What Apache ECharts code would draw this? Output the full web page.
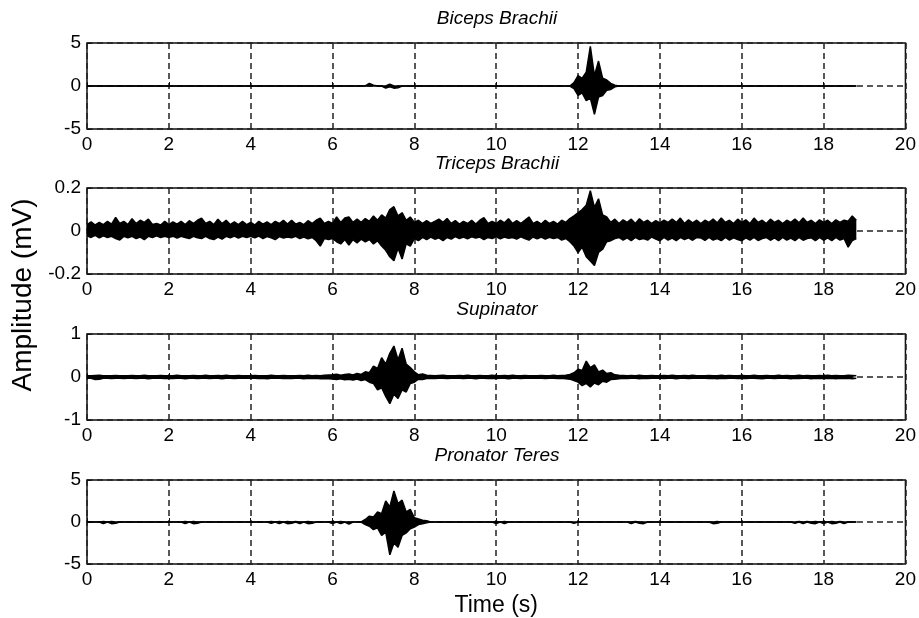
<!DOCTYPE html>
<html>
<head>
<meta charset="utf-8">
<script src="https://cdn.jsdelivr.net/npm/echarts@6/dist/echarts.min.js"></script>
<style>
html,body{margin:0;padding:0;background:#fff;}
#chart{width:919px;height:618px;}
</style>
</head>
<body>
<div id="chart"></div>
<script>
// Sampling step of the envelope readings (s); samples run from 0 to 18.8 s
const DT = 0.1;
const TITLES = ['Biceps Brachii', 'Triceps Brachii', 'Supinator', 'Pronator Teres'];
const X_TICKS = [0, 2, 4, 6, 8, 10, 12, 14, 16, 18, 20];
const Y_RANGES = [[-5, 5, 5], [-0.2, 0.2, 0.2], [-1, 1, 1], [-5, 5, 5]];

// Biceps Brachii upper / lower envelope (mV), one row per second
const BB_HI = [
0,0,0,0,0,0,0,0,0,0,
0,0,0,0,0,0,0,0,0,0,
0,0,0,0,0,0,0,0,0,0,
0,0,0,0,0,0,0,0,0,0,
0,0,0,0,0,0,0,0,0,0,
0,0,0,0,0,0,0,0,0,0,
0,0,0,0,0,0,0,0,0,0.3,
0.1,0,0,0,0.2,0,0,0,0,0,
0,0,0,0,0,0,0,0,0,0,
0,0,0,0,0,0,0,0,0,0,
0,0,0,0,0,0,0,0,0,0,
0,0,0,0,0,0,0,0,0,0.4,
1.2,0.9,1.6,4.6,1.2,2.9,0.9,0.7,0.3,0.1,
0,0,0,0,0,0,0,0,0,0,
0,0,0,0,0,0,0,0,0,0,
0,0,0,0,0,0,0,0,0,0,
0,0,0,0,0,0,0,0,0,0,
0,0,0,0,0,0,0,0,0,0,
0,0,0,0,0,0,0,0,0
];
const BB_LO = [
0,0,0,0,0,0,0,0,0,0,
0,0,0,0,0,0,0,0,0,0,
0,0,0,0,0,0,0,0,0,0,
0,0,0,0,0,0,0,0,0,0,
0,0,0,0,0,0,0,0,0,0,
0,0,0,0,0,0,0,0,0,0,
0,0,0,0,0,0,0,0,0,0,
0,0,0,-0.25,-0.1,-0.25,-0.2,0,0,0,
0,0,0,0,0,0,0,0,0,0,
0,0,0,0,0,0,0,0,0,0,
0,0,0,0,0,0,0,0,0,0,
0,0,0,0,0,0,0,0,0,-0.3,
-1.1,-0.8,-1.7,-1.4,-3.3,-1.3,-1.1,-0.5,-0.4,-0.1,
0,0,0,0,0,0,0,0,0,0,
0,0,0,0,0,0,0,0,0,0,
0,0,0,0,0,0,0,0,0,0,
0,0,0,0,0,0,0,0,0,0,
0,0,0,0,0,0,0,0,0,0,
0,0,0,0,0,0,0,0,0
];

// Triceps Brachii upper / lower envelope (mV)
const TB_HI = [
0.03,0.042,0.028,0.04,0.03,0.045,0.032,0.063,0.035,0.045,
0.03,0.057,0.035,0.05,0.04,0.055,0.03,0.035,0.028,0.045,
0.03,0.042,0.032,0.045,0.03,0.048,0.035,0.05,0.06,0.035,
0.045,0.03,0.055,0.035,0.05,0.03,0.042,0.03,0.045,0.03,
0.04,0.028,0.045,0.032,0.042,0.03,0.045,0.035,0.05,0.032,
0.05,0.032,0.04,0.03,0.048,0.035,0.05,0.06,0.035,0.045,
0.035,0.065,0.04,0.06,0.065,0.04,0.055,0.04,0.058,0.045,
0.07,0.05,0.075,0.06,0.1,0.113,0.07,0.085,0.05,0.065,
0.04,0.05,0.035,0.048,0.035,0.045,0.055,0.04,0.058,0.035,
0.048,0.032,0.045,0.035,0.05,0.032,0.05,0.062,0.035,0.045,
0.035,0.05,0.038,0.057,0.035,0.048,0.035,0.05,0.065,0.035,
0.045,0.032,0.05,0.035,0.045,0.032,0.05,0.04,0.058,0.07,
0.085,0.1,0.12,0.187,0.11,0.15,0.075,0.065,0.04,0.055,
0.035,0.052,0.04,0.055,0.035,0.057,0.04,0.05,0.035,0.048,
0.038,0.05,0.04,0.055,0.04,0.06,0.035,0.052,0.038,0.05,
0.035,0.05,0.04,0.055,0.038,0.06,0.04,0.05,0.035,0.055,
0.04,0.052,0.035,0.06,0.04,0.05,0.035,0.055,0.04,0.05,
0.035,0.05,0.04,0.055,0.038,0.06,0.04,0.05,0.035,0.052,
0.04,0.05,0.035,0.052,0.04,0.05,0.045,0.07,0.05
];
const TB_LO = [
-0.022,-0.03,-0.02,-0.032,-0.022,-0.03,-0.025,-0.035,-0.042,-0.025,
-0.032,-0.025,-0.035,-0.028,-0.04,-0.025,-0.03,-0.022,-0.03,-0.025,
-0.03,-0.024,-0.033,-0.025,-0.03,-0.035,-0.025,-0.032,-0.035,-0.025,
-0.035,-0.04,-0.028,-0.038,-0.025,-0.032,-0.024,-0.033,-0.025,-0.03,
-0.025,-0.032,-0.024,-0.035,-0.026,-0.032,-0.04,-0.026,-0.033,-0.028,
-0.032,-0.025,-0.035,-0.028,-0.036,-0.03,-0.045,-0.07,-0.035,-0.04,
-0.035,-0.05,-0.06,-0.04,-0.065,-0.04,-0.055,-0.038,-0.05,-0.04,
-0.06,-0.045,-0.07,-0.09,-0.12,-0.138,-0.08,-0.13,-0.06,-0.07,
-0.035,-0.045,-0.03,-0.04,-0.028,-0.038,-0.032,-0.045,-0.03,-0.038,
-0.026,-0.035,-0.028,-0.036,-0.027,-0.033,-0.028,-0.04,-0.03,-0.035,
-0.027,-0.036,-0.028,-0.034,-0.03,-0.038,-0.027,-0.035,-0.042,-0.028,
-0.036,-0.028,-0.038,-0.029,-0.035,-0.03,-0.042,-0.035,-0.05,-0.07,
-0.1,-0.075,-0.12,-0.14,-0.16,-0.1,-0.085,-0.05,-0.045,-0.035,
-0.03,-0.042,-0.032,-0.045,-0.03,-0.04,-0.035,-0.042,-0.028,-0.038,
-0.045,-0.03,-0.042,-0.033,-0.045,-0.03,-0.04,-0.032,-0.043,-0.03,
-0.032,-0.044,-0.03,-0.042,-0.035,-0.045,-0.03,-0.042,-0.032,-0.04,
-0.045,-0.032,-0.042,-0.03,-0.044,-0.035,-0.03,-0.043,-0.032,-0.045,
-0.03,-0.042,-0.033,-0.045,-0.03,-0.043,-0.035,-0.032,-0.045,-0.03,
-0.043,-0.032,-0.045,-0.03,-0.042,-0.035,-0.075,-0.045,-0.035
];

// Supinator upper / lower envelope (mV)
const SU_HI = [
0.03,0.03,0.035,0.04,0.03,0.03,0.03,0.035,0.03,0.03,
0.03,0.035,0.03,0.03,0.04,0.03,0.03,0.03,0.035,0.03,
0.03,0.03,0.04,0.03,0.03,0.03,0.035,0.03,0.03,0.04,
0.03,0.03,0.035,0.03,0.04,0.03,0.03,0.035,0.03,0.03,
0.03,0.035,0.03,0.03,0.03,0.04,0.03,0.03,0.035,0.03,
0.03,0.03,0.035,0.03,0.04,0.03,0.035,0.03,0.04,0.045,
0.05,0.065,0.04,0.06,0.07,0.045,0.08,0.06,0.12,0.1,
0.25,0.2,0.45,0.3,0.55,0.72,0.4,0.67,0.3,0.22,
0.12,0.05,0.07,0.04,0.035,0.03,0.035,0.04,0.03,0.03,
0.03,0.035,0.03,0.04,0.03,0.03,0.035,0.03,0.03,0.04,
0.03,0.03,0.035,0.03,0.04,0.03,0.03,0.035,0.03,0.03,
0.03,0.035,0.03,0.03,0.04,0.03,0.035,0.04,0.06,0.1,
0.18,0.15,0.37,0.22,0.28,0.12,0.16,0.08,0.1,0.05,
0.04,0.035,0.03,0.035,0.03,0.04,0.03,0.03,0.035,0.03,
0.03,0.035,0.03,0.04,0.03,0.03,0.035,0.03,0.04,0.03,
0.03,0.03,0.035,0.03,0.03,0.04,0.03,0.035,0.03,0.03,
0.035,0.03,0.03,0.04,0.03,0.03,0.035,0.03,0.03,0.04,
0.03,0.035,0.03,0.03,0.04,0.03,0.035,0.03,0.03,0.035,
0.03,0.04,0.03,0.035,0.03,0.03,0.04,0.035,0.03
];
const SU_LO = [
-0.03,-0.03,-0.06,-0.055,-0.03,-0.03,-0.035,-0.03,-0.03,-0.035,
-0.03,-0.03,-0.035,-0.03,-0.03,-0.04,-0.03,-0.03,-0.03,-0.035,
-0.03,-0.035,-0.03,-0.03,-0.04,-0.03,-0.03,-0.035,-0.03,-0.03,
-0.035,-0.03,-0.03,-0.04,-0.03,-0.03,-0.035,-0.03,-0.03,-0.03,
-0.03,-0.03,-0.035,-0.03,-0.04,-0.03,-0.03,-0.03,-0.035,-0.03,
-0.035,-0.03,-0.03,-0.04,-0.03,-0.035,-0.03,-0.04,-0.035,-0.04,
-0.045,-0.06,-0.04,-0.065,-0.05,-0.07,-0.045,-0.08,-0.06,-0.12,
-0.15,-0.3,-0.25,-0.45,-0.62,-0.4,-0.5,-0.3,-0.35,-0.15,
-0.12,-0.05,-0.06,-0.035,-0.03,-0.035,-0.03,-0.03,-0.035,-0.03,
-0.03,-0.03,-0.035,-0.03,-0.03,-0.04,-0.03,-0.03,-0.035,-0.03,
-0.035,-0.03,-0.03,-0.04,-0.03,-0.03,-0.035,-0.03,-0.03,-0.03,
-0.03,-0.03,-0.035,-0.03,-0.03,-0.035,-0.03,-0.04,-0.05,-0.08,
-0.12,-0.2,-0.15,-0.23,-0.14,-0.18,-0.1,-0.12,-0.06,-0.05,
-0.04,-0.03,-0.035,-0.03,-0.03,-0.04,-0.03,-0.035,-0.03,-0.03,
-0.03,-0.035,-0.03,-0.03,-0.04,-0.03,-0.03,-0.035,-0.03,-0.03,
-0.03,-0.03,-0.035,-0.03,-0.04,-0.03,-0.035,-0.03,-0.03,-0.035,
-0.03,-0.035,-0.03,-0.03,-0.035,-0.04,-0.03,-0.03,-0.035,-0.03,
-0.03,-0.03,-0.04,-0.03,-0.035,-0.03,-0.03,-0.04,-0.03,-0.035,
-0.03,-0.035,-0.03,-0.04,-0.03,-0.035,-0.03,-0.04,-0.03
];

// Pronator Teres upper / lower envelope (mV)
const PT_HI = [
0,0,0,0,0.05,0,0.05,0,0,0,
0,0,0,0,0,0,0,0,0,0,
0,0,0,0,0.05,0,0.05,0,0,0,
0,0,0,0,0,0,0,0,0,0,
0,0,0,0,0,0.05,0,0.05,0,0.05,
0,0.05,0,0,0.05,0,0,0,0,0,
0.05,0,0.05,0,0,0,0,0,0.3,0.7,
0.6,1.2,1.0,2.5,1.8,3.7,2.2,2.6,1.2,1.5,
0.5,0.35,0.2,0.15,0,0,0,0,0,0,
0,0,0,0,0,0,0,0,0,0,
0.05,0,0.05,0,0,0,0,0,0,0,
0,0,0,0,0,0,0,0,0,0,
0,0,0,0,0,0,0,0,0,0,
0,0,0,0,0.05,0,0,0,0,0,
0,0,0,0,0,0,0,0,0,0,
0,0,0,0,0.05,0,0,0,0,0,
0,0,0,0,0,0,0,0,0,0,
0,0,0,0,0.05,0,0.05,0,0.05,0,
0.05,0,0.05,0,0.05,0,0,0,0
];
const PT_LO = [
0,0,0,0,-0.2,0,-0.2,-0.15,0,0,
0,0,0,0,0,0,0,0,0,0,
0,0,0,0,-0.2,0,-0.2,-0.15,0,0,
0,0,0,0,0,0,0,0,0,0,
0,0,0,0,0,-0.15,0,-0.2,0,-0.2,
-0.15,0,-0.2,0,-0.2,-0.15,0,0,0,0,
-0.2,0,-0.2,0,-0.25,0,0,0,-0.3,-0.5,
-0.9,-0.7,-1.6,-1.2,-3.9,-2.5,-3.0,-1.6,-1.3,-0.8,
-0.6,-0.3,-0.2,-0.1,0,0,0,0,0,0,
0,0,0,0,0,0,0,0,0,0,
-0.2,0,-0.2,0,0,0,0,0,0,0,
0,0,0,0,0,0,0,0,0,-0.15,
0,0,0,0,0,0,0,0,0,0,
0,0,0,-0.2,0,-0.15,-0.2,0,0,0,
0,0,0,0,0,0,0,0,0,0,
0,0,0,-0.2,-0.15,0,0,0,0,0,
0,0,0,0,0,0,0,0,0,0,
0,0,0,-0.15,0,-0.2,0,-0.15,-0.2,0,
-0.2,0,-0.2,-0.15,0,-0.2,0,0,0
];

const ENVELOPES = [[BB_HI, BB_LO], [TB_HI, TB_LO], [SU_HI, SU_LO], [PT_HI, PT_LO]];

const FONT = "'Liberation Sans', Arial, sans-serif";
const GRID_TOPS = [43, 188, 334, 480];
const GRID_H = 86;

const chart = echarts.init(document.getElementById('chart'), null, {renderer: 'canvas'});

const grids = [], xAxes = [], yAxes = [], series = [], titles = [];
ENVELOPES.forEach(([hi, lo], k) => {
  grids.push({left: 87, right: 12, top: GRID_TOPS[k], height: GRID_H,
    show: true, borderColor: '#111', borderWidth: 1.5, backgroundColor: '#fff'});
  xAxes.push({
    type: 'value', gridIndex: k, min: X_TICKS[0], max: X_TICKS[X_TICKS.length - 1],
    interval: X_TICKS[1] - X_TICKS[0],
    axisLine: {show: false},
    axisTick: {show: true, inside: true, length: 4, lineStyle: {color: '#111'}},
    axisLabel: {fontSize: 19, color: '#000', fontFamily: FONT, margin: 6},
    splitLine: {show: true, lineStyle: {color: '#222', width: 1.5, type: [6, 4]}},
    name: k === 3 ? 'Time (s)' : '',
    nameLocation: 'middle', nameGap: 30,
    nameTextStyle: {fontSize: 23, color: '#000', fontFamily: FONT}
  });
  const [mn, mx, iv] = Y_RANGES[k];
  yAxes.push({
    type: 'value', gridIndex: k, min: mn, max: mx, interval: iv,
    axisLine: {show: false},
    axisTick: {show: true, inside: true, length: 4, lineStyle: {color: '#111'}},
    axisLabel: {fontSize: 19, color: '#000', fontFamily: FONT, margin: 6},
    splitLine: {show: true, lineStyle: {color: '#222', width: 1.5, type: [6, 4]}}
  });
  [hi, lo].forEach(arr => {
    series.push({
      type: 'line', xAxisIndex: k, yAxisIndex: k, symbol: 'none', silent: true,
      data: arr.map((v, i) => [+(i * DT).toFixed(1), v]),
      lineStyle: {color: '#000', width: 1.5},
      areaStyle: {color: '#000', opacity: 1},
      animation: false
    });
  });
  titles.push({
    text: TITLES[k], left: 497, top: GRID_TOPS[k] - 34, textAlign: 'center', padding: 0,
    textStyle: {fontSize: 19, fontStyle: 'italic', fontWeight: 'normal', color: '#000', fontFamily: FONT}
  });
});

chart.setOption({
  animation: false,
  backgroundColor: '#fff',
  title: titles,
  grid: grids,
  xAxis: xAxes,
  yAxis: yAxes,
  series: series,
  graphic: [{
    type: 'text', x: 23, y: 295, rotation: Math.PI / 2,
    style: {text: 'Amplitude (mV)', fontSize: 28, fontFamily: FONT, fill: '#000',
      textAlign: 'center', textVerticalAlign: 'middle'}
  }]
});
</script>
</body>
</html>
